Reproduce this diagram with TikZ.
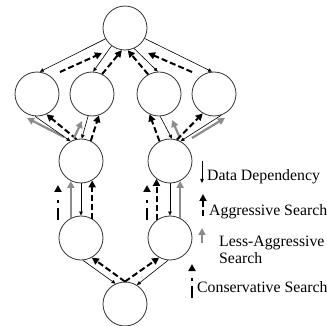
\documentclass[tikz,border=0pt]{standalone}
\usepackage{fontspec}
\setmainfont{Liberation Serif}
\usetikzlibrary{arrows.meta}
\begin{document}
\begin{tikzpicture}[x=1pt,y=-1pt,
  state/.style={circle,draw=black!80,line width=0.8pt,minimum size=44pt,inner sep=0pt},
  dep/.style={-{Triangle[length=4pt,width=3.5pt]},line width=0.6pt,black},
  agg/.style={-{Triangle[length=7pt,width=7pt]},line width=2pt,dash pattern=on 6pt off 3pt},
  less/.style={-{Triangle[length=7pt,width=7pt]},line width=2.2pt,black!45},
  cons/.style={-{Triangle[length=7pt,width=7pt]},line width=2pt,dash pattern=on 12pt off 5pt on 3pt off 40pt},
  lbl/.style={anchor=base west,inner sep=0pt,font=\fontsize{15.8}{18}\selectfont}
]
\useasboundingbox (0,0) rectangle (327,326);
% nodes
\node[state] (T) at (125,28) {};
\node[state] (A) at (37,94) {};
\node[state] (B) at (92,94) {};
\node[state] (C) at (159,94) {};
\node[state] (D) at (214,94) {};
\node[state] (E) at (81,161) {};
\node[state] (F) at (170,161) {};
\node[state] (G) at (81,238) {};
\node[state] (H) at (170,238) {};
\node[state] (K) at (125,304) {};
% free ends
\coordinate (a1) at (60,72);  \coordinate (a2) at (102,53);
\coordinate (a3) at (192,72); \coordinate (a4) at (148,53);
\coordinate (g1) at (64,137); \coordinate (g2) at (27,118);
\coordinate (g3) at (74,138); \coordinate (g4) at (82,121);
\coordinate (g5) at (180,138); \coordinate (g6) at (172,120);
\coordinate (g7) at (192,138); \coordinate (g8) at (225,118);
\coordinate (c1) at (58,220); \coordinate (c2) at (58,185);
\coordinate (c3) at (147,220); \coordinate (c4) at (147,185);
% top level
\draw[dep] (T.209) -- (A.83);
\draw[dep] (T.233) -- (B.87);
\draw[dep] (T.294) -- (C.93);
\draw[dep] (T.332) -- (D.95);
\draw[agg] (a1) -- (a2);
\draw[agg] (B.63) -- (T.262);
\draw[agg] (C.119) -- (T.277);
\draw[agg] (a3) -- (a4);
% level 2-3 left
\draw[less] (g1) -- (g2);
\draw[dep] (A.265) -- (E.118);
\draw[agg] (E.102) -- (A.295);
\draw[less] (g3) -- (g4);
\draw[dep] (B.260) -- (E.88);
\draw[agg] (E.64) -- (B.288);
% level 2-3 right
\draw[agg] (F.118) -- (C.245);
\draw[dep] (C.273) -- (F.85);
\draw[less] (g5) -- (g6);
\draw[agg] (F.72) -- (D.240);
\draw[dep] (D.289) -- (F.62);
\draw[less] (g7) -- (g8);
% level 3-4
\draw[cons] (c1) -- (c2);
\draw[less] (G.117) -- (E.243);
\draw[dep] (E.south) -- (G.north);
\draw[agg] (G.60) -- (E.300);
\draw[cons] (c3) -- (c4);
\draw[agg] (H.127) -- (F.233);
\draw[dep] (F.south) -- (H.north);
\draw[less] (H.63) -- (F.297);
% level 4-bottom
\draw[dep] (G.275) -- (K.115);
\draw[agg] (K.90) -- (G.299);
\draw[agg] (K.90) -- (H.241);
\draw[dep] (H.265) -- (K.58);
% legend
\coordinate (l1) at (202,161); \coordinate (l2) at (202,183);
\coordinate (l3) at (203,216); \coordinate (l4) at (203,194);
\coordinate (l5) at (202,243); \coordinate (l6) at (202,228);
\coordinate (l7) at (192,298); \coordinate (l8) at (192,264);
\draw[dep] (l1) -- (l2);
\draw[agg] (l3) -- (l4);
\draw[less] (l5) -- (l6);
\draw[cons] (l7) -- (l8);
\node[lbl] (t1) at (207,181) {Data Dependency};
\node[lbl] (t2) at (209,215) {Aggressive Search};
\node[lbl] (t3) at (219,247) {Less-Aggressive};
\node[lbl] (t4) at (219,263) {Search};
\node[lbl] (t5) at (197,292) {Conservative Search};
\end{tikzpicture}
\end{document}
